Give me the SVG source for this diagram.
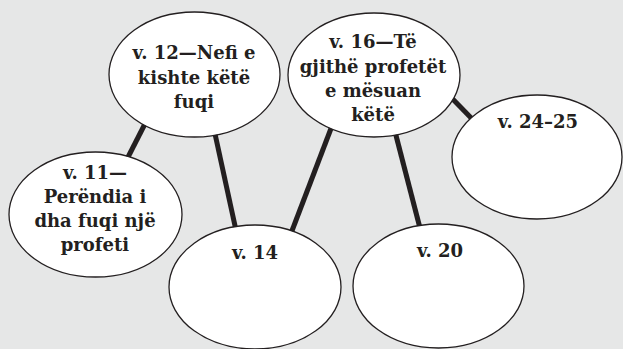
<svg xmlns="http://www.w3.org/2000/svg" width="623" height="349" viewBox="0 0 623 349">
<style>
.bg{fill:#e6e7e7}
.n ellipse{fill:#ffffff;stroke:#231f20;stroke-width:1.3}
.c line{stroke:#231f20;stroke-width:5;stroke-linecap:butt}
text{font-family:"DejaVu Serif","Liberation Serif",serif;font-weight:bold;font-size:18px;fill:#231f20;text-anchor:middle}
</style>
<rect class="bg" x="0" y="0" width="623" height="349"/>
<g id="connectors" class="c">
<line x1="150" y1="114" x2="124" y2="165"/>
<line x1="212" y1="120" x2="237" y2="235"/>
<line x1="335" y1="118" x2="290" y2="236"/>
<line x1="392" y1="120" x2="421" y2="232"/>
<line x1="440" y1="86" x2="478" y2="125"/>
</g>
<g id="n12" class="n">
<ellipse cx="194.5" cy="74.5" rx="85.5" ry="62.5"/>
<text x="194" y="59">v. 12—Nefi e</text>
<text x="194" y="84">kishte këtë</text>
<text x="194" y="108">fuqi</text>
</g>
<g id="n16" class="n">
<ellipse cx="374" cy="75" rx="86" ry="62"/>
<text x="373" y="48">v. 16—Të</text>
<text x="373" y="73">gjithë profetët</text>
<text x="373" y="97">e mësuan</text>
<text x="373" y="121">këtë</text>
</g>
<g id="n24" class="n">
<ellipse cx="537" cy="157" rx="85" ry="62"/>
<text x="538" y="128">v. 24–25</text>
</g>
<g id="n11" class="n">
<ellipse cx="95.5" cy="214.5" rx="86.5" ry="62.5"/>
<text x="95" y="179">v. 11—</text>
<text x="95" y="203">Perëndia i</text>
<text x="95" y="227">dha fuqi një</text>
<text x="95" y="251">profeti</text>
</g>
<g id="n14" class="n">
<ellipse cx="255" cy="287" rx="86" ry="62"/>
<text x="255" y="259">v. 14</text>
</g>
<g id="n20" class="n">
<ellipse cx="438.5" cy="286" rx="85.5" ry="62"/>
<text x="440" y="257">v. 20</text>
</g>
</svg>
